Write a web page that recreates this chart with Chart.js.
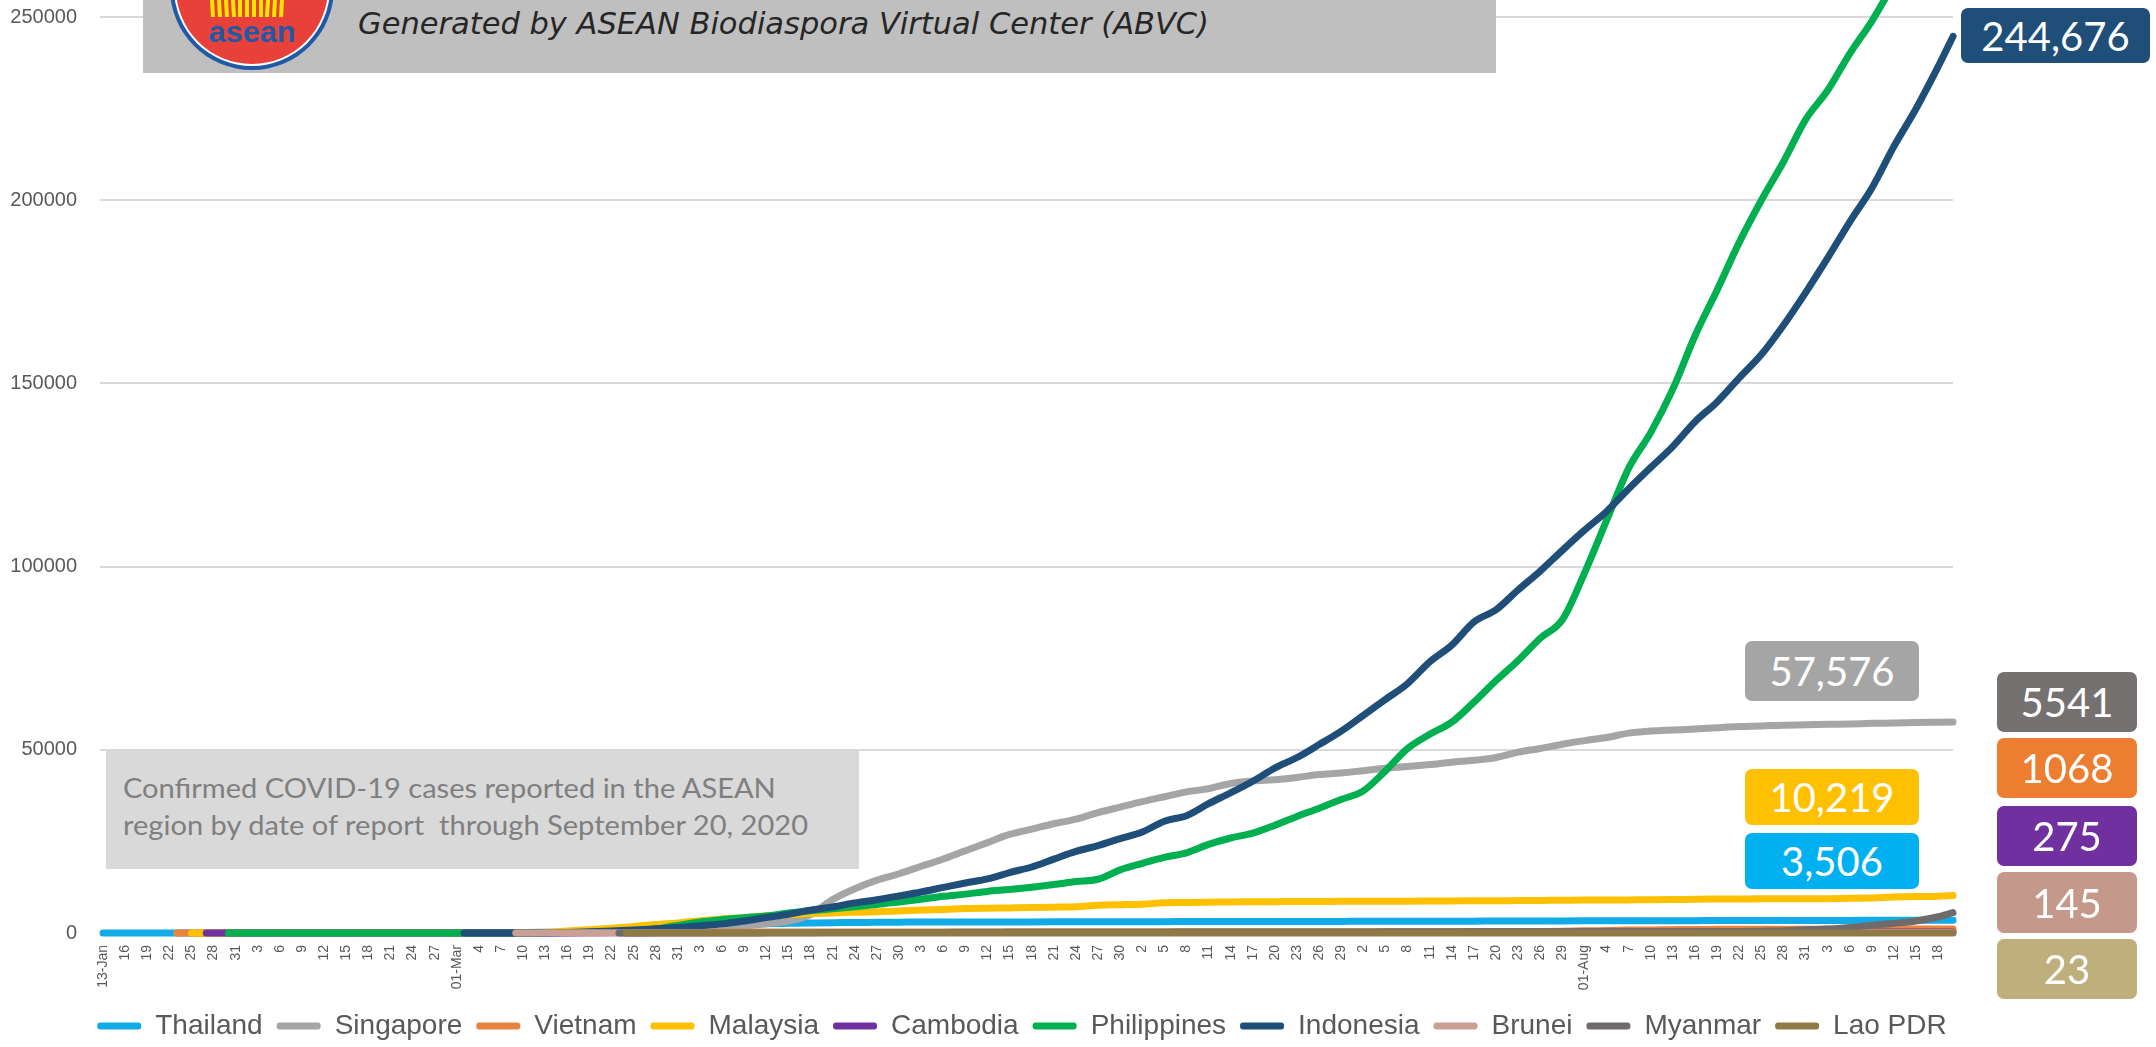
<!DOCTYPE html>
<html><head><meta charset="utf-8">
<script src="https://cdn.jsdelivr.net/npm/chart.js@4.4.1/dist/chart.umd.min.js"></script>
<style>
html,body{margin:0;padding:0;background:#fff;overflow:hidden}
#wrap{position:relative;width:2156px;height:1047px}
canvas{position:absolute;left:0;top:0}
#hdr{position:absolute;left:143px;top:0;width:1353px;height:73px;background:#BFBFBF}
#logo{position:absolute;left:0;top:0}
#hdrText{position:absolute;left:358px;top:6px;font:italic 30px 'DejaVu Sans',sans-serif;color:#262626;white-space:nowrap;transform-origin:0 0;line-height:36px}
#note{position:absolute;left:106px;top:749px;width:753px;height:120px;background:#D9D9D9}
#noteText{position:absolute;left:123px;top:769px;font:27px Lato,sans-serif;color:#7F7F7F;line-height:37px;white-space:nowrap;transform-origin:0 0}
#noteText span{display:inline-block}
.vb{position:absolute;border-radius:7px;color:#fff;font:40px Lato,sans-serif;display:flex;align-items:center;justify-content:center}
</style></head><body>
<div id="wrap">
<canvas id="c" width="2156" height="1047"></canvas>
<div id="hdr"></div>
<svg id="logo" width="400" height="80" viewBox="0 0 400 80">
  <circle cx="252" cy="-12" r="82" fill="#1F5AA6"/>
  <circle cx="252" cy="-12" r="78" fill="#ffffff"/>
  <circle cx="252" cy="-12" r="76" fill="#E8413A"/>
  <g stroke="#FFE500" stroke-width="4">
    <line x1="212" y1="0" x2="213" y2="17"/><line x1="219" y1="0" x2="220" y2="17"/>
    <line x1="226" y1="0" x2="227" y2="17"/><line x1="233" y1="0" x2="234" y2="17"/>
    <line x1="240" y1="0" x2="240" y2="17"/><line x1="247" y1="0" x2="247" y2="17"/>
    <line x1="254" y1="0" x2="254" y2="17"/><line x1="261" y1="0" x2="261" y2="17"/>
    <line x1="268" y1="0" x2="267" y2="17"/><line x1="275" y1="0" x2="274" y2="17"/>
    <line x1="282" y1="0" x2="281" y2="17"/>
  </g>
  <text x="252" y="42" text-anchor="middle" font-family="'Liberation Sans',Arial,sans-serif" font-weight="bold" font-size="29" fill="#1F5AA6" textLength="87" lengthAdjust="spacingAndGlyphs">asean</text>
</svg>
<div id="hdrText">Generated by ASEAN Biodiaspora Virtual Center (ABVC)</div>
<div id="note"></div>
<div id="noteText"><span id="nl1">Confirmed COVID-19 cases reported in the ASEAN</span><br><span id="nl2">region by date of report&nbsp; through September 20, 2020</span></div>
<div id="boxes"></div>
</div>
<script>
// ---------------- DATA ----------------
const countries = ['Thailand','Singapore','Vietnam','Malaysia','Cambodia','Philippines','Indonesia','Brunei','Myanmar','Lao PDR'];

// x-axis tick labels, one every 3 days from 13-Jan to 18-Sep 2020
const tickLabels = ['13-Jan','16','19','22','25','28','31','3','6','9','12','15','18','21','24','27',
  '01-Mar','4','7','10','13','16','19','22','25','28','31',
  '3','6','9','12','15','18','21','24','27','30',
  '3','6','9','12','15','18','21','24','27','30',
  '2','5','8','11','14','17','20','23','26','29',
  '2','5','8','11','14','17','20','23','26','29',
  '01-Aug','4','7','10','13','16','19','22','25','28','31',
  '3','6','9','12','15','18'];
const lastReportDay = 251; // 20-Sep (days after 13-Jan)

// day of first report and its count
const firstReportDay   = [0, 10, 10, 12, 14, 17, 49, 56, 70, 71];
const firstReportCount = [1, 1, 2, 3, 1, 1, 2, 1, 2, 2];

// cumulative confirmed cases at each tick date, last value = 20-Sep
const thailand = [1,1,2,4,5,14,19,19,25,32,
  33,34,35,35,35,40,42,43,50,53,
  75,147,272,599,934,1245,1651,1978,2220,2423,
  2551,2643,2733,2811,2854,2931,2954,2987,2992,3004,
  3017,3025,3033,3037,3042,3054,3077,3083,3104,3119,
  3125,3135,3141,3149,3151,3158,3171,3179,3185,3200,
  3216,3227,3239,3250,3261,3282,3297,3310,3321,3330,
  3351,3359,3377,3389,3397,3409,3412,3417,3427,3445,
  3461,3480,3490,3497,3506];
const singapore = [null,null,null,null,
  3,7,16,18,30,43,50,72,77,86,
  90,96,106,112,130,160,200,243,345,455,
  631,802,926,1114,1375,1910,2532,3252,5050,9125,
  12075,14423,16169,18205,20198,22460,24671,26891,28343,29812,
  31068,32876,34366,35836,37183,38514,39387,40818,41473,41833,
  42432,43246,43661,44310,44983,45423,45961,46630,47126,47912,
  49375,50369,51531,52512,53346,54555,55104,55395,55661,56031,
  56353,56495,56717,56812,56948,57044,57229,57315,57454,57532,
  57576];
const vietnam = [null,null,null,null,
  2,2,5,8,10,14,15,16,16,16,
  16,16,16,16,18,31,47,61,85,113,
  141,174,204,237,245,255,262,267,268,268,
  270,270,270,271,271,288,288,312,318,324,
  325,327,328,328,328,332,334,334,342,349,
  349,353,355,355,369,369,370,373,381,383,
  412,420,459,590,652,789,847,905,966,990,
  1009,1034,1040,1044,1049,1059,1060,1060,1063,1068,
  1068];
const malaysia = [null,null,null,null,
  3,4,8,8,12,17,18,22,22,22,
  22,23,29,50,83,129,197,553,900,1306,
  1796,2320,2766,3333,3793,4228,4683,4987,5305,5482,
  5691,5820,6002,6298,6428,6656,6779,6855,6941,7059,
  7185,7604,7732,7857,8247,8322,8402,8494,8529,8556,
  8590,8606,8637,8643,8674,8683,8718,8755,8779,8800,
  8840,8884,8943,8976,9002,9038,9083,9129,9212,9257,
  9285,9334,9354,9354,9374,9459,9583,9810,9946,10052,
  10219];
const cambodia = [null,null,null,null,null,
  1,1,1,1,1,1,1,1,1,
  1,1,1,1,2,3,5,12,47,84,
  91,103,109,114,115,117,120,122,122,122,
  122,122,122,122,122,122,122,122,122,124,
  124,124,124,125,125,126,126,128,128,129,
  130,135,141,141,141,141,156,165,171,197,
  202,225,234,239,243,244,250,265,266,273,
  273,273,274,274,274,275,275,275,275,275,
  275];
const philippines = [null,null,null,null,null,null,
  1,2,3,3,3,3,3,3,
  3,3,3,3,6,33,64,140,217,380,
  636,1075,2084,3018,3660,4195,4648,5453,6087,6599,
  7192,7777,8488,9223,10004,10610,11350,11876,12513,13221,
  14035,14669,17224,18997,20626,21895,24175,25930,27238,29400,
  31825,34073,36438,38805,44254,50359,54222,57545,63001,68898,
  74390,80448,85486,98232,112593,126885,136638,148500,163000,175500,
  188500,200000,210500,222000,230000,240000,248900,259000,267500,277000,
  279526];
const indonesia = [null,null,null,null,null,null,null,null,null,null,
  null,null,null,null,null,null,null,2,4,27,69,134,309,514,
  790,1155,1528,1986,2491,3293,4241,5136,6248,7135,
  8211,9096,10118,11192,12438,13645,14749,16496,18010,20162,
  22271,23851,25773,27549,30514,32033,35295,38277,41431,45029,
  47896,51427,55092,59394,63749,68079,74018,78572,84882,88214,
  93657,98778,104432,109936,115056,121226,127083,132816,139549,144945,
  151498,157859,165887,174796,184268,194109,203342,214746,225030,236519,
  244676];
const brunei = [null,null,null,null,null,null,null,null,null,null,
  null,null,null,null,null,null,null,null,null,6,40,56,73,88,
  109,120,129,133,135,135,136,136,137,138,
  138,138,138,138,141,141,141,141,141,141,
  141,141,141,141,141,141,141,141,141,141,
  141,141,141,141,141,141,141,141,141,141,
  141,141,141,141,141,141,142,142,143,144,
  144,144,144,144,145,145,145,145,145,145,
  145];
const myanmar = [null,null,null,null,null,null,null,null,null,null,
  null,null,null,null,null,null,null,null,null,null,null,null,null,null,
  3,8,15,20,22,27,41,74,98,119,
  144,146,151,155,161,178,180,182,187,199,
  201,206,228,233,236,244,261,262,272,287,
  292,293,303,304,316,317,321,332,336,341,
  343,350,353,355,357,360,361,370,374,380,
  410,492,608,882,1059,1518,2150,2653,3299,4426,
  5541];
const laoPDR = [null,null,null,null,null,null,null,null,null,null,
  null,null,null,null,null,null,null,null,null,null,null,null,null,null,
  3,8,9,10,11,15,19,19,19,19,
  19,19,19,19,19,19,19,19,19,19,
  19,19,19,19,19,19,19,19,19,19,
  19,19,19,19,19,19,19,19,19,19,
  19,20,20,20,20,20,20,21,21,22,
  22,22,22,22,22,22,23,23,23,23,
  23];
const series = [thailand, singapore, vietnam, malaysia, cambodia, philippines, indonesia, brunei, myanmar, laoPDR];

// ---------------- STYLE ----------------
const lineColors = ['#11ACE8','#A5A5A5','#E8843F','#FFC000','#7030A0','#00B050','#1F4E79','#C9A093','#6F6B6B','#8F7A45'];
const boxColors  = {Indonesia:'#1F4E79',Singapore:'#A5A5A5',Malaysia:'#FFC000',Thailand:'#00B0F0',Myanmar:'#767171',Vietnam:'#ED7D31',Cambodia:'#7030A0',Brunei:'#C4998B','Lao PDR':'#BFAF7D'};
const boxLayout = [ // [country, left, top, width, height, useComma]
  ['Indonesia',1961,8,189,55,true],
  ['Singapore',1745,641,174,60,true],
  ['Malaysia',1745,769,174,56,true],
  ['Thailand',1745,833,174,56,true],
  ['Myanmar',1997,672,140,60,false],
  ['Vietnam',1997,738,140,60,false],
  ['Cambodia',1997,806,140,60,false],
  ['Brunei',1997,872,140,61,false],
  ['Lao PDR',1997,939,140,60,false]
];
const sans = "'Liberation Sans',Arial,sans-serif";

const reportDays = tickLabels.map((_, k) => 3 * k).concat([lastReportDay]);

const datasets = countries.map((name, i) => {
  const pts = [{x: firstReportDay[i], y: firstReportCount[i]}];
  series[i].forEach((v, k) => {
    if (v !== null && reportDays[k] > firstReportDay[i]) pts.push({x: reportDays[k], y: v});
  });
  return {
    label: name, data: pts,
    borderColor: lineColors[i], backgroundColor: lineColors[i],
    borderWidth: 7, pointRadius: 0, pointHoverRadius: 0,
    cubicInterpolationMode: 'monotone',
    borderCapStyle: 'round', borderJoinStyle: 'round',
    clip: false, order: countries.length - i
  };
});

new Chart(document.getElementById('c'), {
  type: 'line',
  data: {datasets},
  options: {
    responsive: false, animation: false, devicePixelRatio: 1,
    layout: {padding: {left: 0, right: 112, top: 17, bottom: 0}},
    plugins: {
      tooltip: {enabled: false},
      legend: {
        position: 'bottom', maxHeight: 49,
        labels: {
          boxWidth: 44, boxHeight: 7, useBorderRadius: true, borderRadius: 3,
          padding: 14, color: '#595959', font: {family: sans, size: 28},
          sort: (a, b) => a.datasetIndex - b.datasetIndex,
          generateLabels: (chart) => {
            const items = Chart.defaults.plugins.legend.labels.generateLabels(chart);
            items.forEach(it => { it.lineWidth = 0; it.strokeStyle = 'rgba(0,0,0,0)'; it.fillStyle = lineColors[it.datasetIndex]; });
            return items;
          }
        }
      }
    },
    scales: {
      x: {
        type: 'linear', min: -0.41, max: lastReportDay,
        grid: {display: false, drawTicks: false}, border: {display: false},
        ticks: {stepSize: 3, includeBounds: false, autoSkip: false, minRotation: 90, maxRotation: 90,
          padding: 12, color: '#595959', font: {family: sans, size: 14},
          callback: (v) => { const k = Math.round(v / 3); return (k >= 0 && k < tickLabels.length) ? tickLabels[k] : ''; }},
        afterFit: (s) => { s.height = 65; }
      },
      y: {
        min: 0, max: 250000,
        grid: {color: '#D9D9D9', lineWidth: 2, drawTicks: true, tickLength: 23, tickColor: 'rgba(0,0,0,0)'},
        border: {display: false},
        ticks: {stepSize: 50000, padding: 0, color: '#595959', font: {family: sans, size: 20}, callback: (v) => String(v)},
        afterFit: (s) => { s.width = 100; }
      },
      y2: {
        position: 'right', display: true,
        grid: {display: false, drawTicks: false}, border: {display: false},
        ticks: {display: false},
        afterFit: (s) => { s.width = 91; }
      }
    }
  }
});

// value boxes from the last value of each series
const boxesEl = document.getElementById('boxes');
boxLayout.forEach(([name, l, t, w, h, comma]) => {
  const s = series[countries.indexOf(name)];
  const v = s[s.length - 1];
  const d = document.createElement('div');
  d.className = 'vb';
  d.style.cssText = `left:${l}px;top:${t}px;width:${w}px;height:${h}px;background:${boxColors[name]}`;
  d.textContent = comma ? v.toLocaleString('en-US') : String(v);
  boxesEl.appendChild(d);
});

// fit annotation text widths
function fitX(el, target) {
  const w = el.getBoundingClientRect().width;
  if (w > 0) el.style.transform = 'scaleX(' + (target / w) + ')';
}
const hdr = document.getElementById('hdrText');
hdr.style.display = 'inline-block';
fitX(hdr, 851);
const nl2 = document.getElementById('nl2');
const nw = nl2.getBoundingClientRect().width;
document.getElementById('noteText').style.transform = 'scaleX(' + (685 / nw) + ')';
</script>
</body></html>
